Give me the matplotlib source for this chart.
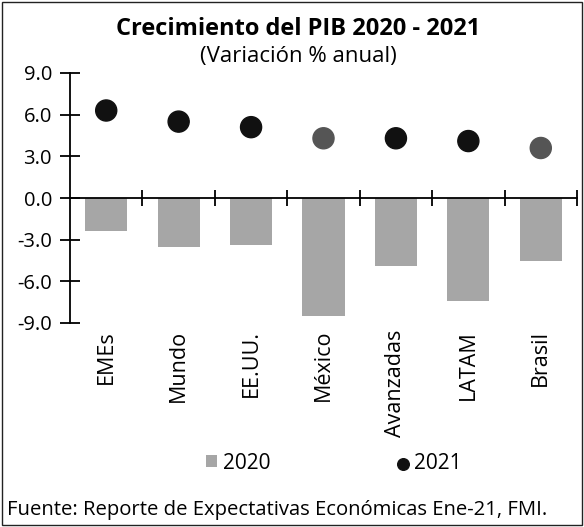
import numpy as np
import matplotlib
matplotlib.use("Agg")
import matplotlib.pyplot as plt
from matplotlib.patches import Rectangle

plt.rcParams['font.family'] = ['Open Sans', 'DejaVu Sans']

categorias = ['EMEs', 'Mundo', 'EE.UU.', 'México', 'Avanzadas', 'LATAM', 'Brasil']
pib_2020 = [-2.4, -3.5, -3.4, -8.5, -4.9, -7.4, -4.5]
pib_2021 = [6.3, 5.5, 5.1, 4.3, 4.3, 4.1, 3.6]
colores_2021 = ['#111111', '#111111', '#111111', '#555555', '#111111', '#111111', '#555555']
yticks = [9.0, 6.0, 3.0, 0.0, -3.0, -6.0, -9.0]

fig = plt.figure(figsize=(5.84, 5.27), dpi=100)
ax = fig.add_axes([70/584, 1 - 323/527, 507/584, 250/527])

x = np.arange(len(categorias))
barras = ax.bar(x, pib_2020, width=0.58, color='#a6a6a6', label='2020', zorder=2)
ax.scatter(x, pib_2021, s=230, c=colores_2021, zorder=3)
punto = ax.scatter([], [], s=70, c='#111111', label='2021')

ax.set_xlim(-0.5, len(categorias) - 0.5)
ax.set_ylim(-9, 9)
ax.set_yticks(yticks)
ax.set_yticklabels([f'{v:.1f}' for v in yticks], fontsize=14.5)

for s in ['top', 'right']:
    ax.spines[s].set_visible(False)
ax.spines['bottom'].set_position(('data', 0))
ax.spines['bottom'].set_linewidth(1.3)
ax.spines['left'].set_linewidth(1.3)
ax.set_xticks(np.arange(len(categorias)) + 0.5)
ax.set_xticklabels([])
ax.tick_params(axis='x', direction='inout', length=11, width=1.3)
ax.tick_params(axis='y', direction='inout', length=14, width=1.3, pad=6)

for xi, c in zip(x, categorias):
    ax.text(xi, -9.5, c, rotation=90, ha='center', va='top', fontsize=15.5)

fig.text(0.511, 0.945, 'Crecimiento del PIB 2020 - 2021', ha='center', va='center',
         fontsize=17, fontweight='bold')
fig.text(0.511, 0.893, '(Variación % anual)', ha='center', va='center', fontsize=16)

ax.legend(handles=[barras, punto], labels=['2020', '2021'],
          loc='center', bbox_to_anchor=(0.572, 0.121), bbox_transform=fig.transFigure,
          ncol=2, frameon=False, fontsize=15, columnspacing=6.1, handlelength=0.5,
          handletextpad=0.3, handleheight=0.5)

fig.text(0.012, 0.032, 'Fuente: Reporte de Expectativas Económicas Ene-21, FMI.',
         ha='left', va='center', fontsize=14.6)

fig.patches.append(Rectangle((0.003, 0.003), 0.994, 0.994, transform=fig.transFigure,
                             fill=False, edgecolor='#222222', linewidth=1.0))

fig.savefig('out.png', dpi=100)
